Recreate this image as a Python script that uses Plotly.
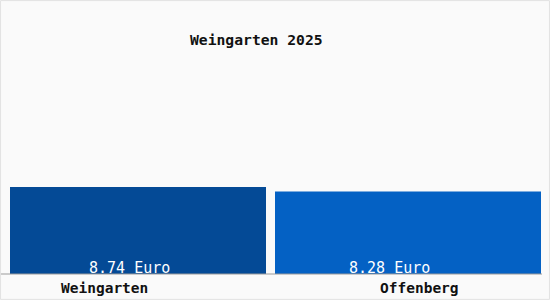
import plotly.graph_objects as go

categories = ["Weingarten", "Offenberg"]
values = [8.74, 8.28]
value_labels = ["8.74 Euro", "8.28 Euro"]
title_text = "Weingarten 2025"

bar_colors = ["#044a96", "#0461c4"]
W, H = 550, 300
px_per_unit = 87 / 8.74
y_zero_px = 274
ymin = -(H - y_zero_px) / px_per_unit
ymax = y_zero_px / px_per_unit

# pixel geometry of bars (left edge, width)
slot = W / 2
lefts = [10, 275]
widths = [256, 266]
offsets = [lefts[i] / slot - 0.5 - i for i in range(2)]
wfrac = [w / slot for w in widths]

fig = go.Figure()
fig.add_trace(go.Bar(
    x=[0, 1], y=values,
    marker=dict(color=bar_colors, line=dict(width=0)),
    width=wfrac, offset=offsets,
    hoverinfo="skip",
))

font = "DejaVu Sans Mono"
label_cx = [129.5, 389.5]
cat_cx = [104, 419.5]
ann = []
for i in range(2):
    ann.append(dict(x=label_cx[i] / W, y=(H - 268) / H, xref="paper", yref="paper",
                    text=value_labels[i], showarrow=False,
                    font=dict(family=font, size=15, color="white"),
                    xanchor="center", yanchor="middle"))
    ann.append(dict(x=cat_cx[i] / W, y=(H - 288) / H, xref="paper", yref="paper",
                    text="<b>" + categories[i] + "</b>", showarrow=False,
                    font=dict(family=font, size=14.5, color="#111"),
                    xanchor="center", yanchor="middle"))
ann.append(dict(x=256.5 / W, y=(H - 40) / H, xref="paper", yref="paper",
                text="<b>" + title_text + "</b>", showarrow=False,
                font=dict(family=font, size=14.7, color="#111"),
                xanchor="center", yanchor="middle"))

shapes = [
    dict(type="line", xref="paper", yref="y", x0=0, x1=542 / W, y0=0, y1=0,
         line=dict(color="#9a9a9a", width=1)),
    dict(type="rect", xref="paper", yref="paper", x0=0.001, x1=0.999, y0=0.002, y1=0.998,
         line=dict(color="#e2e2e2", width=1)),
]

fig.update_layout(
    width=W, height=H,
    margin=dict(l=0, r=0, t=0, b=0),
    paper_bgcolor="#fafafa", plot_bgcolor="#fafafa",
    showlegend=False,
    xaxis=dict(range=[-0.5, 1.5], visible=False, fixedrange=True),
    yaxis=dict(range=[ymin, ymax], visible=False, fixedrange=True),
    annotations=ann, shapes=shapes,
)
fig.write_html("out.html", config={"displayModeBar": False})
